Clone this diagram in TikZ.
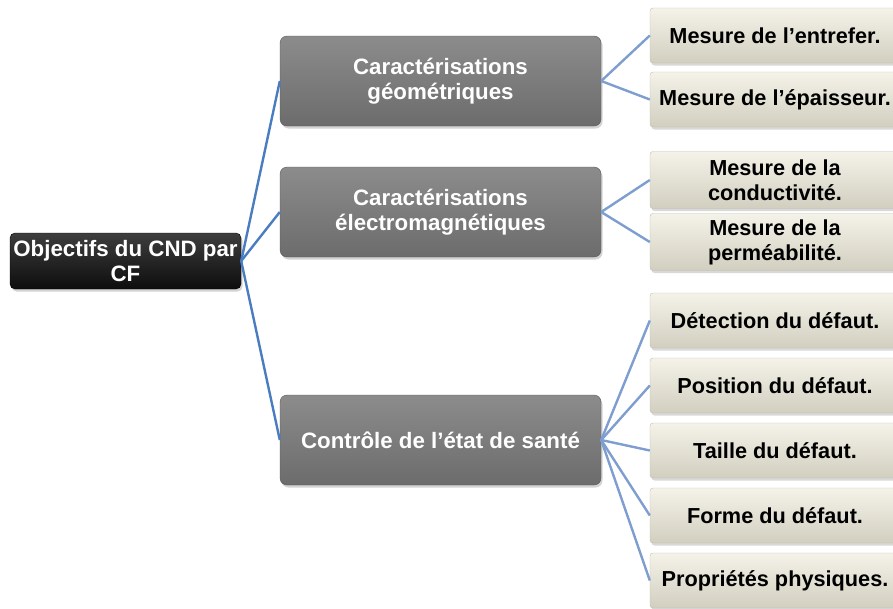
\documentclass[tikz,border=0pt]{standalone}
\usepackage{fontspec}
\setmainfont{Liberation Sans}
\usetikzlibrary{shadows}
\definecolor{rootcolor}{HTML}{0D0D0D}
\definecolor{midcolor}{HTML}{7F7F7F}
\definecolor{leafcolor}{HTML}{EEEBDA}
\definecolor{trunkcolor}{HTML}{4A7CC0}
\definecolor{branchcolor}{HTML}{7E9ECF}
\newcommand{\linkwidth}{2.4pt}
\newcommand{\boxfont}{\bfseries\fontsize{22.3}{25}\selectfont}
\newcommand{\leaffont}{\bfseries\fontsize{21.7}{25}\selectfont}
\tikzset{
  rootbox/.style={draw=black, rounded corners=5pt, top color=rootcolor!80!white,
    bottom color=rootcolor, text=white, font=\boxfont, align=center,
    minimum width=231pt, minimum height=56pt, inner sep=0pt,
    drop shadow={opacity=0.35, shadow xshift=1.5pt, shadow yshift=-2.5pt}},
  midbox/.style={draw=midcolor!70!black, rounded corners=7pt, top color=midcolor!90!white,
    bottom color=midcolor!85!black, text=white, font=\boxfont, align=center,
    minimum width=321pt, minimum height=90pt, inner sep=0pt,
    drop shadow={opacity=0.35, shadow xshift=1.5pt, shadow yshift=-2.5pt}},
  leafbox/.style={draw=leafcolor!80!black, rounded corners=3pt, top color=leafcolor!60!white,
    bottom color=leafcolor!88!black, text=black, font=\leaffont, align=center,
    minimum width=250pt, minimum height=55pt, inner sep=0pt,
    drop shadow={opacity=0.3, shadow xshift=1.5pt, shadow yshift=-2.5pt}},
  trunk/.style={draw=trunkcolor, line width=\linkwidth},
  branch/.style={draw=branchcolor, line width=\linkwidth}
}
\begin{document}
\begin{tikzpicture}[x=1pt, y=-1pt]
  \useasboundingbox (0,0) rectangle (893,608);

  \node[rootbox] (root) at (125.5, 261) {Objectifs du CND par\\CF};

  \node[midbox] (geo) at (440.5, 81) {Caractérisations\\géométriques};
  \node[midbox] (elec) at (440.5, 212) {Caractérisations\\électromagnétiques};
  \node[midbox] (sante) at (440.5, 440) {Contrôle de l’état de santé};

  \node[leafbox] (entrefer) at (775, 35.5) {Mesure de l’entrefer.};
  \node[leafbox] (epaisseur) at (775, 99.5) {Mesure de l’épaisseur.};
  \node[leafbox, minimum height=57pt] (conduct) at (775, 180) {Mesure de la\\conductivité.};
  \node[leafbox, minimum height=57pt] (permea) at (775, 242) {Mesure de la\\perméabilité.};
  \node[leafbox] (detection) at (775, 320.5) {Détection du défaut.};
  \node[leafbox] (position) at (775, 385.5) {Position du défaut.};
  \node[leafbox] (taille) at (775, 450.5) {Taille du défaut.};
  \node[leafbox] (forme) at (775, 515.5) {Forme du défaut.};
  \node[leafbox] (proprietes) at (775, 580.5) {Propriétés physiques.};

  \draw[trunk] (root.east) -- (geo.west);
  \draw[trunk] (root.east) -- (elec.west);
  \draw[trunk] (root.east) -- (sante.west);

  \draw[branch] (geo.east) -- (entrefer.west);
  \draw[branch] (geo.east) -- (epaisseur.west);
  \draw[branch] (elec.east) -- (conduct.west);
  \draw[branch] (elec.east) -- (permea.west);
  \draw[branch] (sante.east) -- (detection.west);
  \draw[branch] (sante.east) -- (position.west);
  \draw[branch] (sante.east) -- (taille.west);
  \draw[branch] (sante.east) -- (forme.west);
  \draw[branch] (sante.east) -- (proprietes.west);
\end{tikzpicture}
\end{document}
